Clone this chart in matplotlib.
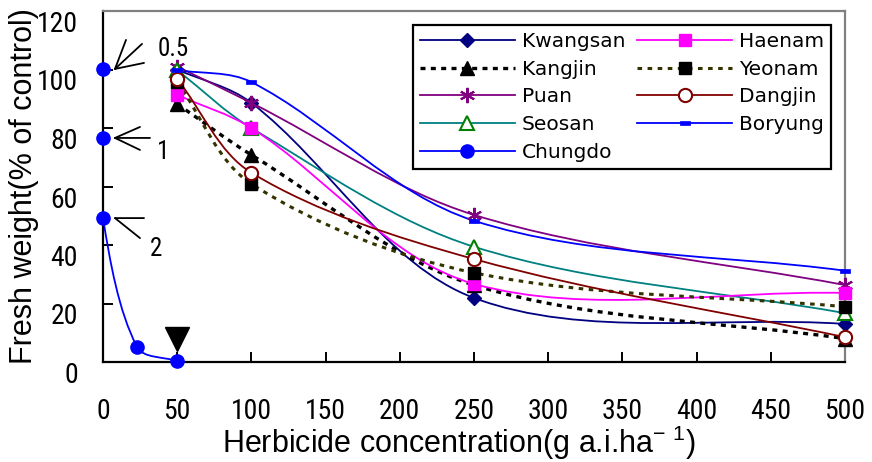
import matplotlib
matplotlib.use('Agg')
import matplotlib.pyplot as plt
import numpy as np
from matplotlib.path import Path
from matplotlib.patches import PathPatch
from matplotlib.lines import Line2D

# ---------------- data ----------------
conc = [50, 100, 250, 500]
kwangsan = [100.0, 88.6, 21.9, 13.0]
kangjin = [88.2, 70.8, 26.3, 8.0]
puan = [101.0, 88.6, 50.3, 26.3]
seosan = [99.8, 80.0, 39.4, 16.7]
haenam = [91.3, 80.0, 26.7, 23.6]
yeonam = [95.7, 60.9, 30.5, 18.9]
dangjin = [96.8, 64.7, 35.2, 8.5]
boryung = [99.8, 95.7, 48.3, 31.2]
chungdo_x = [0, 0, 0, 23, 50]
chungdo_y = [100.2, 76.6, 49.2, 5.1, 0.3]
stage_labels = ['0.5', '1', '2']
mark_x, mark_y = [50], [8.0]      # black down triangle
xticks = [0, 50, 100, 150, 200, 250, 300, 350, 400, 450, 500]
yticks = [0, 20, 40, 60, 80, 100, 120]

NARROW = ['Roboto Condensed', 'Liberation Sans', 'DejaVu Sans']
ARIAL = ['Liberation Sans', 'DejaVu Sans']
plt.rcParams['mathtext.fontset'] = 'custom'
plt.rcParams['mathtext.rm'] = 'Liberation Sans'

DPI = 100
PXX = 742 / 500.0   # pixel per x unit (for chord lengths of smoothing)
PXY = 351 / 120.0


def smooth_path(x, y):
    pts = np.column_stack([x, y]).astype(float)
    sp = pts * np.array([PXX, PXY])
    n = len(pts)
    verts = [pts[0]]
    codes = [Path.MOVETO]

    def d(a, b):
        return max(np.hypot(*(sp[b] - sp[a])), 1e-9)

    for i in range(n - 1):
        i0 = i - 1 if i > 0 else i
        i3 = i + 2 if i + 2 < n else i + 1
        p1, p2 = pts[i], pts[i + 1]
        d12 = d(i, i + 1)
        d01 = d(i0, i) if i0 != i else d12
        d23 = d(i + 1, i3) if i3 != i + 1 else d12
        m1 = pts[i + 1] - pts[i0] if i0 != i else (p2 - p1) * 2
        m2 = pts[i3] - pts[i] if i3 != i + 1 else (p2 - p1) * 2
        c1 = p1 + m1 * d12 / (d01 + d12) / 3.0
        c2 = p2 - m2 * d12 / (d12 + d23) / 3.0
        verts += [c1, c2, p2]
        codes += [Path.CURVE4] * 3
    return Path(verts, codes)


fig = plt.figure(figsize=(8.72, 4.62), dpi=DPI)
ax = fig.add_axes([103 / 872, 1 - 362 / 462, (845 - 103) / 872, (362 - 11) / 462])
ax.set_xlim(0, 500)
ax.set_ylim(0, 120)

rect = [(-1, -0.55), (1, -0.55), (1, 0.55), (-1, 0.55), (-1, -0.55)]

series = [
    ('Kwangsan', conc, kwangsan, '#000080', 1.3, '-', 'D', 7, '#000080', '#000080', 1.0),
    ('Kangjin', conc, kangjin, '#000000', 2.4, (0, (1.5, 1.6)), '^', 10, '#000000', '#000000', 1.0),
    ('Puan', conc, puan, '#800080', 1.3, '-', (6, 2, 0), 11, '#800080', '#800080', 1.5),
    ('Seosan', conc, seosan, '#008080', 1.3, '-', '^', 10, 'white', '#008000', 1.5),
    ('Chungdo', chungdo_x, chungdo_y, '#0000FF', 1.3, '-', 'o', 9.5, '#0000FF', '#0000FF', 1.0),
    ('Haenam', conc, haenam, '#FF00FF', 1.3, '-', 's', 9, '#FF00FF', '#FF00FF', 1.0),
    ('Yeonam', conc, yeonam, '#333300', 2.2, (0, (1.5, 1.8)), 's', 9, '#000000', '#000000', 1.0),
    ('Dangjin', conc, dangjin, '#800000', 1.3, '-', 'o', 9.5, 'white', '#800000', 1.5),
    ('Boryung', conc, boryung, '#0000FF', 1.3, '-', rect, 6.5, '#0000FF', '#0000FF', 0.5),
]

handles = []
for name, xs, ys, col, lw, ls, mk, ms, mfc, mec, mew in series:
    patch = PathPatch(smooth_path(xs, ys), fill=False, edgecolor=col, lw=lw,
                      linestyle=ls, capstyle='butt', zorder=2)
    ax.add_patch(patch)
    ax.plot(xs, ys, ls='none', marker=mk, ms=ms, mfc=mfc, mec=mec, mew=mew,
            zorder=3, clip_on=False)
    handles.append(Line2D([], [], color=col, lw=lw, ls=ls, marker=mk, ms=ms,
                          mfc=mfc, mec=mec, mew=mew, label=name,
                          dash_capstyle='butt'))

ax.plot(mark_x, mark_y, ls='none', marker='v', ms=17.5, color='black', zorder=4)

pt = 72.0 / DPI
arrow_specs = [
    (0, (27, -25), [(11, -29), (29, -6)], (58, -20)),
    (1, (35, 0), [(25, -11), (25, 12)], (48, 14)),
    (2, None, [(29, 0), (25, 20)], (41, 31)),
]
for (idx, shaft, wings, lab_off), lab in zip(arrow_specs, stage_labels):
    xy = (chungdo_x[idx] + 12 / PXX, chungdo_y[idx])
    segs = list(wings) + ([shaft] if shaft is not None else [])
    for dx, dy in segs:
        ax.annotate('', xy=xy, xycoords='data',
                    xytext=(dx * pt, -dy * pt), textcoords='offset points',
                    arrowprops=dict(arrowstyle='-', color='black', lw=1.3,
                                    shrinkA=0, shrinkB=0), annotation_clip=False)
    ax.annotate(lab, xy=xy, xycoords='data',
                xytext=(lab_off[0] * pt, -lab_off[1] * pt), textcoords='offset points',
                ha='center', va='center', fontsize=18, family=NARROW,
                annotation_clip=False)

for s in ['left', 'bottom']:
    ax.spines[s].set_color('black')
    ax.spines[s].set_linewidth(1.6)
for s in ['top', 'right']:
    ax.spines[s].set_color('#808080')
    ax.spines[s].set_linewidth(1.6)

ax.set_xticks(xticks)
ax.set_yticks(yticks)
ax.set_xticklabels([str(v) for v in xticks])
ax.set_yticklabels([str(v) for v in yticks])
ax.tick_params(direction='in', length=7, width=1.4, color='black',
               top=False, right=False)
ax.tick_params(axis='x', pad=26, labelsize=20)
ax.tick_params(axis='y', pad=18, labelsize=20)
for lab in ax.get_xticklabels() + ax.get_yticklabels():
    lab.set_family(NARROW)
for lab in ax.get_yticklabels():
    lab.set_va('top')

ax.set_ylabel('Fresh weight(% of control)', fontsize=22, family=ARIAL)
ax.yaxis.set_label_coords((39 - 103) / 742, 0.5)
ax.set_xlabel(r'Herbicide concentration(g a.i.ha$^{\mathrm{-\ 1}}$)', fontsize=22,
              family=ARIAL)
ax.xaxis.set_label_coords((459 - 103) / 742, -(424 - 362) / 351)

leg = ax.legend(handles=handles, ncol=2, loc='upper left',
                bbox_to_anchor=(413 / 872, 1 - 25 / 462),
                bbox_transform=fig.transFigure, borderaxespad=0,
                frameon=True, fancybox=False, framealpha=1, edgecolor='black',
                prop={'family': 'DejaVu Sans', 'size': 14.5},
                handlelength=4.7, handletextpad=0.35, columnspacing=0.6,
                labelspacing=0.43, borderpad=0.35, numpoints=1)
leg.get_frame().set_linewidth(1.6)

fig.savefig('out.png', dpi=DPI)
